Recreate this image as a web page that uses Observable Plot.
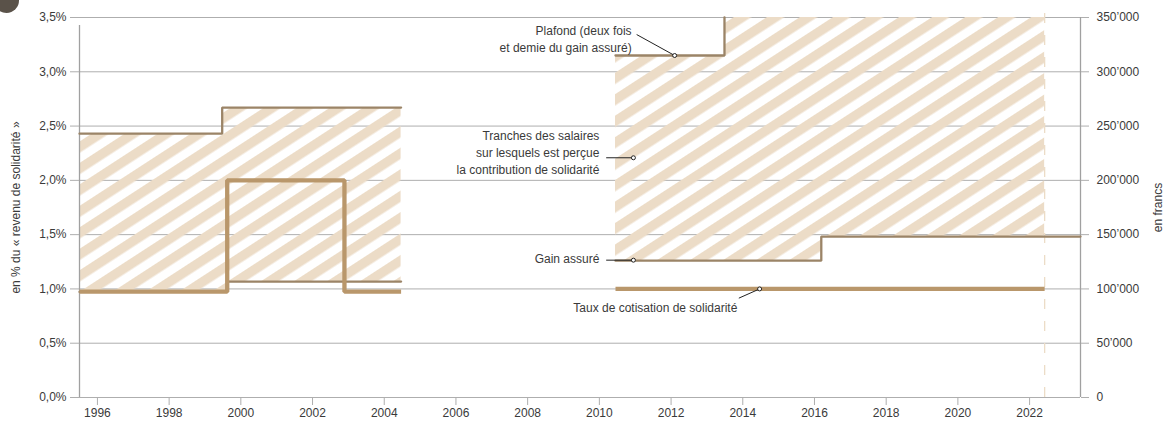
<!DOCTYPE html>
<html><head><meta charset="utf-8">
<script src="https://cdn.jsdelivr.net/npm/d3@7"></script>
<script src="https://cdn.jsdelivr.net/npm/@observablehq/plot@0.6"></script>
<style>
body{margin:0;background:#fff;}
#wrap{position:relative;width:1167px;height:426px;overflow:hidden;}
#badge{position:absolute;left:-6px;top:-12px;width:25px;height:25px;border-radius:50%;background:#5a5249;}
</style></head><body><div id="wrap"><div id="badge"></div></div>
<script>
const xDomain = [1995.5, 2023.42];
const yDomain = [0, 3.5];
const xTicks = [1996, 1998, 2000, 2002, 2004, 2006, 2008, 2010, 2012, 2014, 2016, 2018, 2020, 2022];
const yTicks = [0, 0.5, 1, 1.5, 2, 2.5, 3, 3.5];

// values in % of "revenu de solidarité" (1 % = 100'000 francs)
const plafondPeriod = ["A", "A", "A", "B", "B"];
const plafondX = [1995.5, 1999.48, 2004.47, 2010.45, 2013.49];
const plafondY = [2.43, 2.67, 2.67, 3.15, 3.5];

const gainPeriod = ["A", "A", "A", "B", "B", "B"];
const gainX = [1995.5, 1999.62, 2004.47, 2010.45, 2016.19, 2023.42];
const gainY = [0.972, 1.068, 1.068, 1.26, 1.482, 1.482];

const tauxPeriod = ["A", "A", "A", "A", "B", "B"];
const tauxX = [1995.5, 1999.62, 2002.89, 2004.47, 2010.45, 2022.42];
const tauxY = [0.975, 2.0, 0.975, 0.975, 1.0, 1.0];

const bandPeriod = ["A", "A", "A", "A", "B", "B", "B", "B"];
const bandX = [1995.5, 1999.48, 1999.62, 2004.47, 2010.45, 2013.49, 2016.19, 2022.42];
const bandLow = [0.972, 0.972, 1.068, 1.068, 1.26, 1.26, 1.482, 1.482];
const bandHigh = [2.43, 2.67, 2.67, 2.67, 3.15, 3.5, 3.5, 3.5];

const lastYear = 2022.42;

const labelTexts = ["Plafond (deux fois\net demie du gain assuré)",
  "Tranches des salaires\nsur lesquels est perçue\nla contribution de solidarité",
  "Gain assuré",
  "Taux de cotisation de solidarité"];
const labelX = [2010.90, 2010.0, 2010.0, 2013.85];
const labelY = [3.311, 2.266, 1.287, 0.838];
const leaderX1 = [2011.04, 2010.19, 2010.19, 2013.89];
const leaderY1 = [3.343, 2.208, 1.265, 0.915];
const leaderX2 = [2012.10, 2010.95, 2010.95, 2014.47];
const leaderY2 = [3.15, 2.208, 1.265, 1.0];

const plafond = plafondX.map((x, i) => ({period: plafondPeriod[i], x, y: plafondY[i]}));
const gain = gainX.map((x, i) => ({period: gainPeriod[i], x, y: gainY[i]}));
const taux = tauxX.map((x, i) => ({period: tauxPeriod[i], x, y: tauxY[i]}));
const band = bandX.map((x, i) => ({period: bandPeriod[i], x, low: bandLow[i], high: bandHigh[i]}));
const labels = labelTexts.map((t, i) => ({t, x: labelX[i], y: labelY[i]}));
const leaders = leaderX1.map((x1, i) => ({x1, y1: leaderY1[i], x2: leaderX2[i], y2: leaderY2[i]}));

const pct = d => d.toFixed(1).replace(".", ",") + "%";
const francs = d => { const v = Math.round(d * 100000); return v === 0 ? "0" : d3.format(",")(v).replace(/,/g, "\u2019"); };

const grey = "#aeaeae";
const textCol = "#3a3a3a";
const lineCol = "#9b8467";
const tauxCol = "#b9976b";
const hatchCol = "#ecdcc7";

const chart = Plot.plot({
  width: 1167, height: 426,
  marginLeft: 79, marginRight: 87, marginTop: 17, marginBottom: 29,
  style: {fontFamily: "'Liberation Sans', Arial, sans-serif", fontSize: "12px", color: textCol, background: "transparent"},
  x: {domain: xDomain},
  y: {domain: yDomain},
  marks: [
    Plot.gridY(yTicks, {stroke: grey, strokeOpacity: 1, strokeWidth: 1}),
    Plot.areaY(band, {x: "x", y1: "low", y2: "high", z: "period", curve: "step-after", fill: "url(#hatch)"}),
    Plot.ruleX([lastYear], {y1: 0, y2: 3.5, stroke: hatchCol, strokeWidth: 1.3, strokeDasharray: "10,12", insetBottom: 13}),
    Plot.ruleX([xDomain[0]], {y1: 0, y2: 3.5, stroke: "#a0a0a0", strokeWidth: 1.3, insetBottom: -8}),
    Plot.ruleX([xDomain[1]], {y1: 0, y2: 3.5, stroke: "#a0a0a0", strokeWidth: 1.3}),
    Plot.lineY(gain, {x: "x", y: "y", z: "period", curve: "step-after", stroke: lineCol, strokeWidth: 2.3, strokeLinejoin: "miter"}),
    Plot.lineY(plafond, {x: "x", y: "y", z: "period", curve: "step-after", stroke: lineCol, strokeWidth: 2.3, strokeLinejoin: "miter"}),
    Plot.lineY(taux, {x: "x", y: "y", z: "period", curve: "step-after", stroke: tauxCol, strokeWidth: 4.3, strokeLinejoin: "miter", strokeLinecap: "butt"}),
    Plot.axisY(yTicks, {anchor: "left", tickSize: 9, tickPadding: 4, tickFormat: pct, stroke: grey, fill: textCol,
      label: "en % du « revenu de solidarité »", labelAnchor: "center", labelOffset: 68, labelArrow: "none"}),
    Plot.axisY(yTicks, {anchor: "right", tickSize: 8, tickPadding: 8, tickFormat: francs, stroke: grey, fill: textCol,
      label: "en francs", labelAnchor: "center", labelOffset: 81, labelArrow: "none"}),
    Plot.axisX(xTicks, {anchor: "bottom", tickSize: 8, tickPadding: 3, tickFormat: d => String(d), stroke: grey, fill: textCol, label: null}),
    Plot.link(leaders, {x1: "x1", y1: "y1", x2: "x2", y2: "y2", stroke: "#222", strokeWidth: 1}),
    Plot.dot(leaders, {x: "x2", y: "y2", r: 2, fill: "white", stroke: "#222", strokeWidth: 1}),
    Plot.text(labels, {x: "x", y: "y", text: "t", textAnchor: "end", lineAnchor: "middle", lineHeight: 1.4, fill: textCol, fontSize: 12})
  ]
});

const s = d3.select(chart);
const pat = s.insert("defs", ":first-child").append("pattern")
  .attr("id", "hatch").attr("patternUnits", "userSpaceOnUse")
  .attr("width", 18).attr("height", 18)
  .attr("patternTransform", "rotate(-33)");
pat.append("rect").attr("x", 0).attr("y", 0).attr("width", 18).attr("height", 9.5).attr("fill", hatchCol);

document.getElementById("wrap").prepend(chart);
</script>
</body></html>
